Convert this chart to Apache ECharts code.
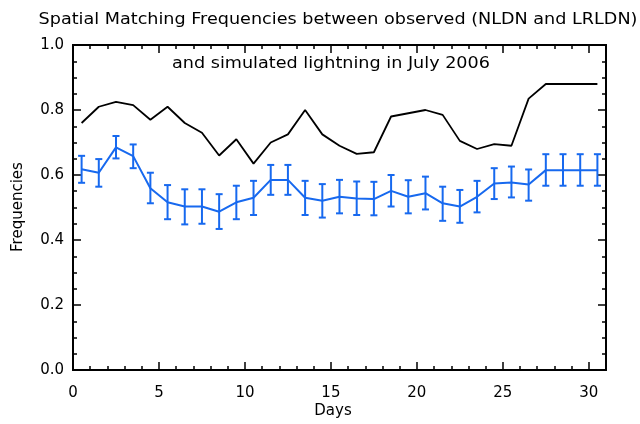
<!DOCTYPE html>
<html>
<head>
<meta charset="utf-8">
<script src="https://cdn.jsdelivr.net/npm/echarts@6/dist/echarts.min.js"></script>
<style>
  html, body { margin: 0; padding: 0; background: #fff; }
  #chart { width: 640px; height: 424px; }
</style>
</head>
<body>
<div id="chart"></div>
<script>
// days (mid-day positions)
const days = [0.5, 1.5, 2.5, 3.5, 4.5, 5.5, 6.5, 7.5, 8.5, 9.5, 10.5, 11.5, 12.5, 13.5, 14.5, 15.5,
  16.5, 17.5, 18.5, 19.5, 20.5, 21.5, 22.5, 23.5, 24.5, 25.5, 26.5, 27.5, 28.5, 29.5, 30.5];
// black line
const blackFreq = [0.76, 0.81, 0.825, 0.815, 0.77, 0.81, 0.76, 0.73, 0.66, 0.71, 0.635, 0.70, 0.725, 0.80, 0.725, 0.69,
  0.665, 0.67, 0.78, 0.79, 0.80, 0.785, 0.705, 0.68, 0.695, 0.69, 0.835, 0.88, 0.88, 0.88, 0.88];
// blue line + error bars
const blueFreq = [0.618, 0.607, 0.685, 0.658, 0.559, 0.516, 0.503, 0.503, 0.487, 0.516, 0.53, 0.585, 0.585, 0.53, 0.521, 0.533,
  0.528, 0.526, 0.551, 0.533, 0.544, 0.513, 0.503, 0.533, 0.574, 0.577, 0.571, 0.615, 0.615, 0.615, 0.615];
const blueUpper = [0.659, 0.649, 0.72, 0.694, 0.607, 0.569, 0.556, 0.556, 0.541, 0.567, 0.582, 0.631, 0.631, 0.582, 0.572, 0.585,
  0.58, 0.579, 0.6, 0.584, 0.595, 0.564, 0.554, 0.582, 0.621, 0.626, 0.617, 0.664, 0.664, 0.664, 0.664];
const blueLower = [0.576, 0.564, 0.651, 0.621, 0.513, 0.464, 0.448, 0.45, 0.434, 0.464, 0.477, 0.539, 0.539, 0.477, 0.469, 0.482,
  0.477, 0.476, 0.503, 0.482, 0.494, 0.459, 0.453, 0.485, 0.526, 0.531, 0.521, 0.567, 0.567, 0.567, 0.567];

const FONT = 'DejaVu Sans';
const BLUE = '#1769ef';

let myChart = echarts.init(document.getElementById('chart'), null, { renderer: 'canvas' });

// helper for an x axis used only for ticks
function tickX(pos, interval, len, labels) {
  return {
    type: 'value', position: pos, min: 0, max: 31, interval: interval,
    axisLine: { show: true, onZero: false, lineStyle: { color: '#000', width: 2 } },
    axisTick: { show: true, inside: true, length: len, lineStyle: { color: '#000', width: 1.5 } },
    axisLabel: {
      show: labels, margin: 16, color: '#000', fontFamily: FONT, fontSize: 15,
      showMaxLabel: false
    },
    splitLine: { show: false }
  };
}
function tickY(pos, labels) {
  return {
    type: 'value', position: pos, min: 0, max: 1, interval: 0.2,
    axisLine: { show: true, onZero: false, lineStyle: { color: '#000', width: 2 } },
    axisTick: { show: true, inside: true, length: 8, lineStyle: { color: '#000', width: 1.5 } },
    minorTick: { show: true, splitNumber: 4, length: 4, lineStyle: { color: '#000', width: 1.5 } },
    axisLabel: {
      show: labels, margin: 9, color: '#000', fontFamily: FONT, fontSize: 15,
      formatter: v => v.toFixed(1)
    },
    splitLine: { show: false }
  };
}

const blueData = days.map((d, i) => [d, blueFreq[i]]);
const blackData = days.map((d, i) => [d, blackFreq[i]]);
const errData = days.map((d, i) => [d, blueLower[i], blueUpper[i]]);

myChart.setOption({
  animation: false,
  backgroundColor: '#fff',
  grid: { left: 73, right: 34, top: 45, bottom: 54 },
  xAxis: [
    tickX('bottom', 5, 8, true),
    tickX('bottom', 1, 4, false),
    tickX('top', 5, 8, false),
    tickX('top', 1, 4, false)
  ],
  yAxis: [tickY('left', true), tickY('right', false)],
  graphic: [
    { type: 'text', x: 338, y: 20, scaleX: 1.1, style: { text: 'Spatial Matching Frequencies between observed (NLDN and LRLDN)', fill: '#000', font: '16px "DejaVu Sans"', align: 'center', verticalAlign: 'middle' } },
    { type: 'text', x: 331, y: 64, scaleX: 1.1, style: { text: 'and simulated lightning in July 2006', fill: '#000', font: '16px "DejaVu Sans"', align: 'center', verticalAlign: 'middle' } },
    { type: 'text', x: 333, y: 411, style: { text: 'Days', fill: '#000', font: '15px "DejaVu Sans"', align: 'center', verticalAlign: 'middle' } },
    { type: 'text', x: 18, y: 207, rotation: Math.PI / 2, style: { text: 'Frequencies', fill: '#000', font: '15px "DejaVu Sans"', align: 'center', verticalAlign: 'middle' } }
  ],
  series: [
    {
      type: 'line', xAxisIndex: 0, yAxisIndex: 0, data: blackData,
      symbol: 'none', lineStyle: { color: '#000', width: 1.8 }
    },
    {
      type: 'line', xAxisIndex: 0, yAxisIndex: 0, data: blueData,
      symbol: 'none', lineStyle: { color: BLUE, width: 2 }
    },
    {
      type: 'custom', xAxisIndex: 0, yAxisIndex: 0, data: errData,
      encode: { x: 0, y: [1, 2] },
      renderItem: function (params, api) {
        const x = api.value(0);
        const lo = api.coord([x, api.value(1)]);
        const hi = api.coord([x, api.value(2)]);
        const w = 3.5;
        const st = { stroke: BLUE, lineWidth: 2 };
        return {
          type: 'group',
          children: [
            { type: 'line', shape: { x1: hi[0], y1: hi[1], x2: lo[0], y2: lo[1] }, style: st },
            { type: 'line', shape: { x1: hi[0] - w, y1: hi[1], x2: hi[0] + w, y2: hi[1] }, style: st },
            { type: 'line', shape: { x1: lo[0] - w, y1: lo[1], x2: lo[0] + w, y2: lo[1] }, style: st }
          ]
        };
      }
    }
  ]
});

window.onresize = function () { myChart.resize(); };
</script>
</body>
</html>
